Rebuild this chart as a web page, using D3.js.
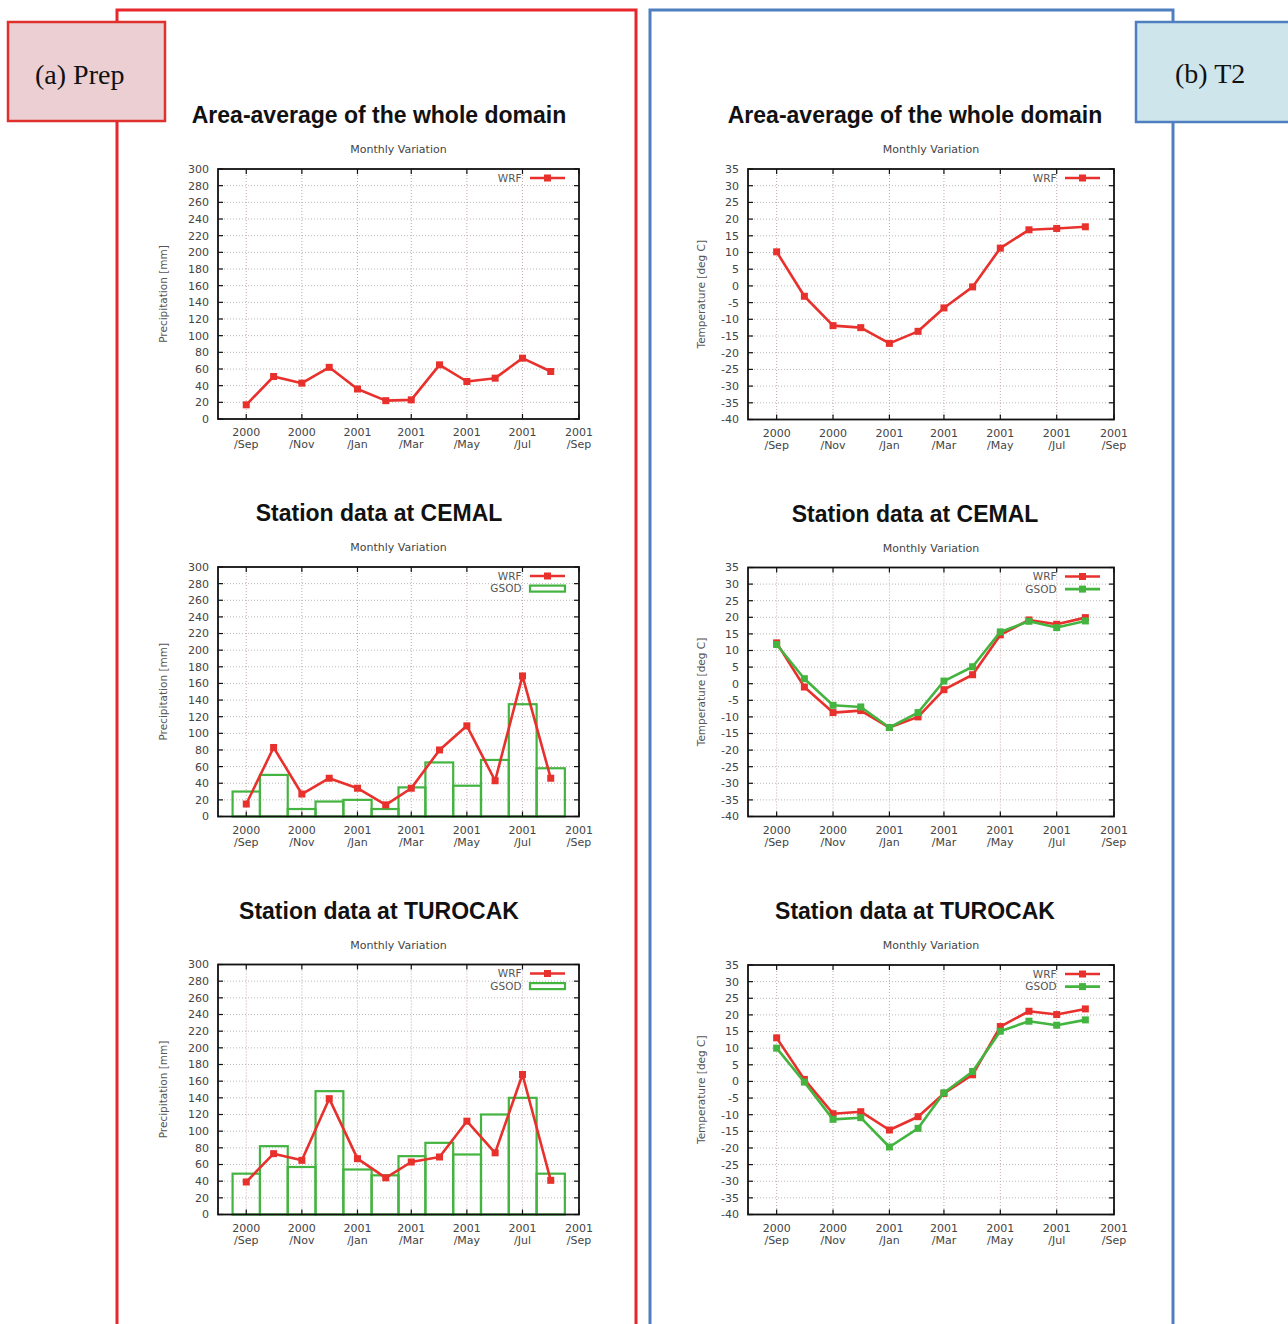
<!DOCTYPE html>
<html><head><meta charset="utf-8">
<script src="https://cdn.jsdelivr.net/npm/d3@7"></script>
<style>body{margin:0;background:#fff} svg{display:block}</style>
</head><body>
<svg id="c" width="1288" height="1324"></svg>
<script>
// ---------- data ----------
const months = ["2000-09-01","2000-10-01","2000-11-01","2000-12-01","2001-01-01","2001-02-01",
                "2001-03-01","2001-04-01","2001-05-01","2001-06-01","2001-07-01","2001-08-01"];
const xTickDates = ["2000-09-01","2000-11-01","2001-01-01","2001-03-01","2001-05-01","2001-07-01","2001-09-01"];
const precipTicks = [0,20,40,60,80,100,120,140,160,180,200,220,240,260,280,300];
const tempTicks = [-40,-35,-30,-25,-20,-15,-10,-5,0,5,10,15,20,25,30,35];

const prepDomainWRF   = [17,51,43,62,36,22,23,65,45,49,73,57];
const prepCemalWRF    = [15,83,27,46,34,14,34,80,109,43,169,46];
const prepCemalGSOD   = [30,50,9,18,20,9,35,65,37,68,135,58];
const prepTurocakWRF  = [39,73,65,139,67,44,63,69,112,74,168,41];
const prepTurocakGSOD = [49,82,57,148,54,47,70,86,72,120,140,49];

const t2DomainWRF   = [10.2,-3.1,-11.9,-12.5,-17.2,-13.6,-6.6,-0.3,11.3,16.8,17.2,17.7];
const t2CemalWRF    = [12.3,-1.0,-8.7,-8.1,-13.2,-10.0,-1.8,2.7,14.7,19.2,17.9,19.9];
const t2CemalGSOD   = [11.8,1.5,-6.5,-7.0,-13.2,-8.7,0.8,5.1,15.6,18.8,16.9,18.9];
const t2TurocakWRF  = [13.1,0.6,-9.7,-9.1,-14.6,-10.6,-3.6,2.0,16.5,21.1,20.1,21.8];
const t2TurocakGSOD = [10.0,-0.2,-11.4,-10.9,-19.7,-14.1,-3.4,3.0,15.1,18.1,16.9,18.5];

const titles = ["Area-average of the whole domain","Station data at CEMAL","Station data at TUROCAK"];

// ---------- style ----------
const RED = "#e8302c", GREEN = "#44b440";
const svg = d3.select("#c");
const parse = d3.utcParse("%Y-%m-%d");
const fmtY = d3.utcFormat("%Y"), fmtM = d3.utcFormat("/%b");
const mDates = months.map(parse);
const tDates = xTickDates.map(parse);

// frames
svg.append("rect").attr("x",117).attr("y",10).attr("width",519).attr("height",1340)
  .attr("fill","none").attr("stroke","#e8262b").attr("stroke-width",3);
svg.append("rect").attr("x",650).attr("y",10).attr("width",523).attr("height",1340)
  .attr("fill","none").attr("stroke","#4f7fbf").attr("stroke-width",3);

function chart(cfg){
  const g = svg.append("g");
  const x = d3.scaleUtc().domain([parse("2000-08-01"), parse("2001-09-01")]).range([cfg.x0, cfg.x1]);
  const y = d3.scaleLinear().domain(cfg.yDomain).range([cfg.y1, cfg.y0]);
  const font = "DejaVu Sans, sans-serif";

  // titles
  g.append("text").attr("x",cfg.titleX).attr("y",cfg.y0-46).attr("text-anchor","middle")
    .attr("font-family","Liberation Sans, Arial, sans-serif").attr("font-weight","bold")
    .attr("font-size",23).attr("fill","#111").text(cfg.title);
  g.append("text").attr("x",(cfg.x0+cfg.x1)/2).attr("y",cfg.y0-16).attr("text-anchor","middle")
    .attr("font-family",font).attr("font-size",11).attr("fill","#444").text("Monthly Variation");

  // grid
  g.append("g").selectAll("line").data(cfg.yTicks.slice(1,-1)).join("line")
    .attr("x1",cfg.x0).attr("x2",cfg.x1).attr("y1",d=>y(d)).attr("y2",d=>y(d))
    .attr("stroke","#b8b8b8").attr("stroke-width",1).attr("stroke-dasharray","1,2");
  g.append("g").selectAll("line").data(tDates.slice(0,-1)).join("line")
    .attr("x1",d=>x(d)).attr("x2",d=>x(d)).attr("y1",cfg.y0).attr("y2",cfg.y1)
    .attr("stroke","#c4a8a8").attr("stroke-width",1).attr("stroke-dasharray","1,2");

  // bars (GSOD precip boxes)
  if (cfg.bars){
    const xs = mDates.map(d=>x(d));
    const edges = xs.map((v,i)=>{
      const l = i>0 ? (xs[i-1]+v)/2 : v-(xs[1]-xs[0])/2;
      const r = i<xs.length-1 ? (v+xs[i+1])/2 : v+(v-xs[i-1])/2;
      return [l,r];
    });
    g.append("g").selectAll("rect").data(cfg.bars).join("rect")
      .attr("x",(d,i)=>edges[i][0]).attr("width",(d,i)=>edges[i][1]-edges[i][0])
      .attr("y",d=>y(d)).attr("height",d=>y(cfg.yDomain[0])-y(d))
      .attr("fill","none").attr("stroke",GREEN).attr("stroke-width",2.2);
  }

  // lines
  const line = d3.line().x((d,i)=>x(mDates[i])).y(d=>y(d));
  cfg.lines.forEach(s=>{
    g.append("path").datum(s.values).attr("d",line).attr("fill","none")
      .attr("stroke",s.color).attr("stroke-width",2.6).attr("stroke-linejoin","round");
    g.append("g").selectAll("rect").data(s.values).join("rect")
      .attr("x",(d,i)=>x(mDates[i])-3.5).attr("y",d=>y(d)-3.5)
      .attr("width",7).attr("height",7).attr("fill",s.color);
  });

  // border
  g.append("rect").attr("x",cfg.x0).attr("y",cfg.y0).attr("width",cfg.x1-cfg.x0).attr("height",cfg.y1-cfg.y0)
    .attr("fill","none").attr("stroke","#111").attr("stroke-width",1.8);

  // ticks (inward, mirrored)
  const tk = g.append("g").attr("stroke","#111").attr("stroke-width",1.2);
  cfg.yTicks.forEach(v=>{
    tk.append("line").attr("x1",cfg.x0).attr("x2",cfg.x0+5).attr("y1",y(v)).attr("y2",y(v));
    tk.append("line").attr("x1",cfg.x1).attr("x2",cfg.x1-5).attr("y1",y(v)).attr("y2",y(v));
  });
  tDates.forEach(d=>{
    tk.append("line").attr("x1",x(d)).attr("x2",x(d)).attr("y1",cfg.y1).attr("y2",cfg.y1-5);
    tk.append("line").attr("x1",x(d)).attr("x2",x(d)).attr("y1",cfg.y0).attr("y2",cfg.y0+5);
  });

  // y tick labels
  g.append("g").selectAll("text").data(cfg.yTicks).join("text")
    .attr("x",cfg.x0-9).attr("y",d=>y(d)).attr("dy","0.36em").attr("text-anchor","end")
    .attr("font-family",font).attr("font-size",11).attr("fill","#444").text(d=>d);
  // x tick labels
  const xl = g.append("g").selectAll("g").data(tDates).join("g");
  xl.append("text").attr("x",d=>x(d)).attr("y",cfg.y1+17).attr("text-anchor","middle")
    .attr("font-family",font).attr("font-size",11).attr("fill","#444").text(d=>fmtY(d));
  xl.append("text").attr("x",d=>x(d)).attr("y",cfg.y1+29).attr("text-anchor","middle")
    .attr("font-family",font).attr("font-size",11).attr("fill","#444").text(d=>fmtM(d));

  // y label
  const cy = (cfg.y0+cfg.y1)/2;
  g.append("text").attr("transform",`translate(${cfg.labelX},${cy}) rotate(-90)`)
    .attr("text-anchor","middle").attr("dy","0.35em")
    .attr("font-family",font).attr("font-size",10.5).attr("fill","#555").text(cfg.ylabel);

  // legend
  const leg = [];
  cfg.lines.forEach(s=>leg.push({name:s.name,type:"line",color:s.color}));
  if (cfg.bars) leg.push({name:"GSOD",type:"bar",color:GREEN});
  leg.forEach((l,i)=>{
    const ly = cfg.y0+9+i*12.6;
    g.append("text").attr("x",cfg.x1-57.5).attr("y",ly).attr("dy","0.35em").attr("text-anchor","end")
      .attr("font-family",font).attr("font-size",10.5).attr("fill","#555").text(l.name);
    if (l.type==="line"){
      g.append("line").attr("x1",cfg.x1-49).attr("x2",cfg.x1-14).attr("y1",ly).attr("y2",ly)
        .attr("stroke",l.color).attr("stroke-width",2.6);
      g.append("rect").attr("x",cfg.x1-31.5-3.5).attr("y",ly-3.5).attr("width",7).attr("height",7).attr("fill",l.color);
    } else {
      g.append("rect").attr("x",cfg.x1-49).attr("y",ly-3).attr("width",35).attr("height",6)
        .attr("fill","none").attr("stroke",l.color).attr("stroke-width",2.2);
    }
  });
}

const rowsL = [[169,419],[567,816.5],[964.5,1214.5]];
const rowsR = [[169,419.5],[567.5,816.5],[965,1214.5]];
const prepLines = [[{name:"WRF",color:RED,values:prepDomainWRF}],
                   [{name:"WRF",color:RED,values:prepCemalWRF}],
                   [{name:"WRF",color:RED,values:prepTurocakWRF}]];
const prepBars = [null, prepCemalGSOD, prepTurocakGSOD];
const t2Lines = [[{name:"WRF",color:RED,values:t2DomainWRF}],
                 [{name:"WRF",color:RED,values:t2CemalWRF},{name:"GSOD",color:GREEN,values:t2CemalGSOD}],
                 [{name:"WRF",color:RED,values:t2TurocakWRF},{name:"GSOD",color:GREEN,values:t2TurocakGSOD}]];

for (let r=0;r<3;r++){
  chart({x0:218,x1:579,y0:rowsL[r][0],y1:rowsL[r][1],yDomain:[0,300],yTicks:precipTicks,
    ylabel:"Precipitation [mm]",title:titles[r],titleX:379,labelX:163,lines:prepLines[r],bars:prepBars[r]});
  chart({x0:748,x1:1114,y0:rowsR[r][0],y1:rowsR[r][1],yDomain:[-40,35],yTicks:tempTicks,
    ylabel:"Temperature [deg C]",title:titles[r],titleX:915,labelX:701,lines:t2Lines[r],bars:null});
}

// panel label boxes
svg.append("rect").attr("x",8).attr("y",22).attr("width",157).attr("height",99)
  .attr("fill","#ebcfd2").attr("stroke","#e0302e").attr("stroke-width",2.5);
svg.append("text").attr("x",35).attr("y",84).attr("font-family","Liberation Serif, Times New Roman, serif")
  .attr("font-size",28).attr("fill","#111").text("(a) Prep");
svg.append("rect").attr("x",1136).attr("y",22).attr("width",160).attr("height",100)
  .attr("fill","#cfe5ec").attr("stroke","#4f7fbf").attr("stroke-width",2.5);
svg.append("text").attr("x",1175).attr("y",83).attr("font-family","Liberation Serif, Times New Roman, serif")
  .attr("font-size",28).attr("fill","#111").text("(b) T2");
</script>
</body></html>
